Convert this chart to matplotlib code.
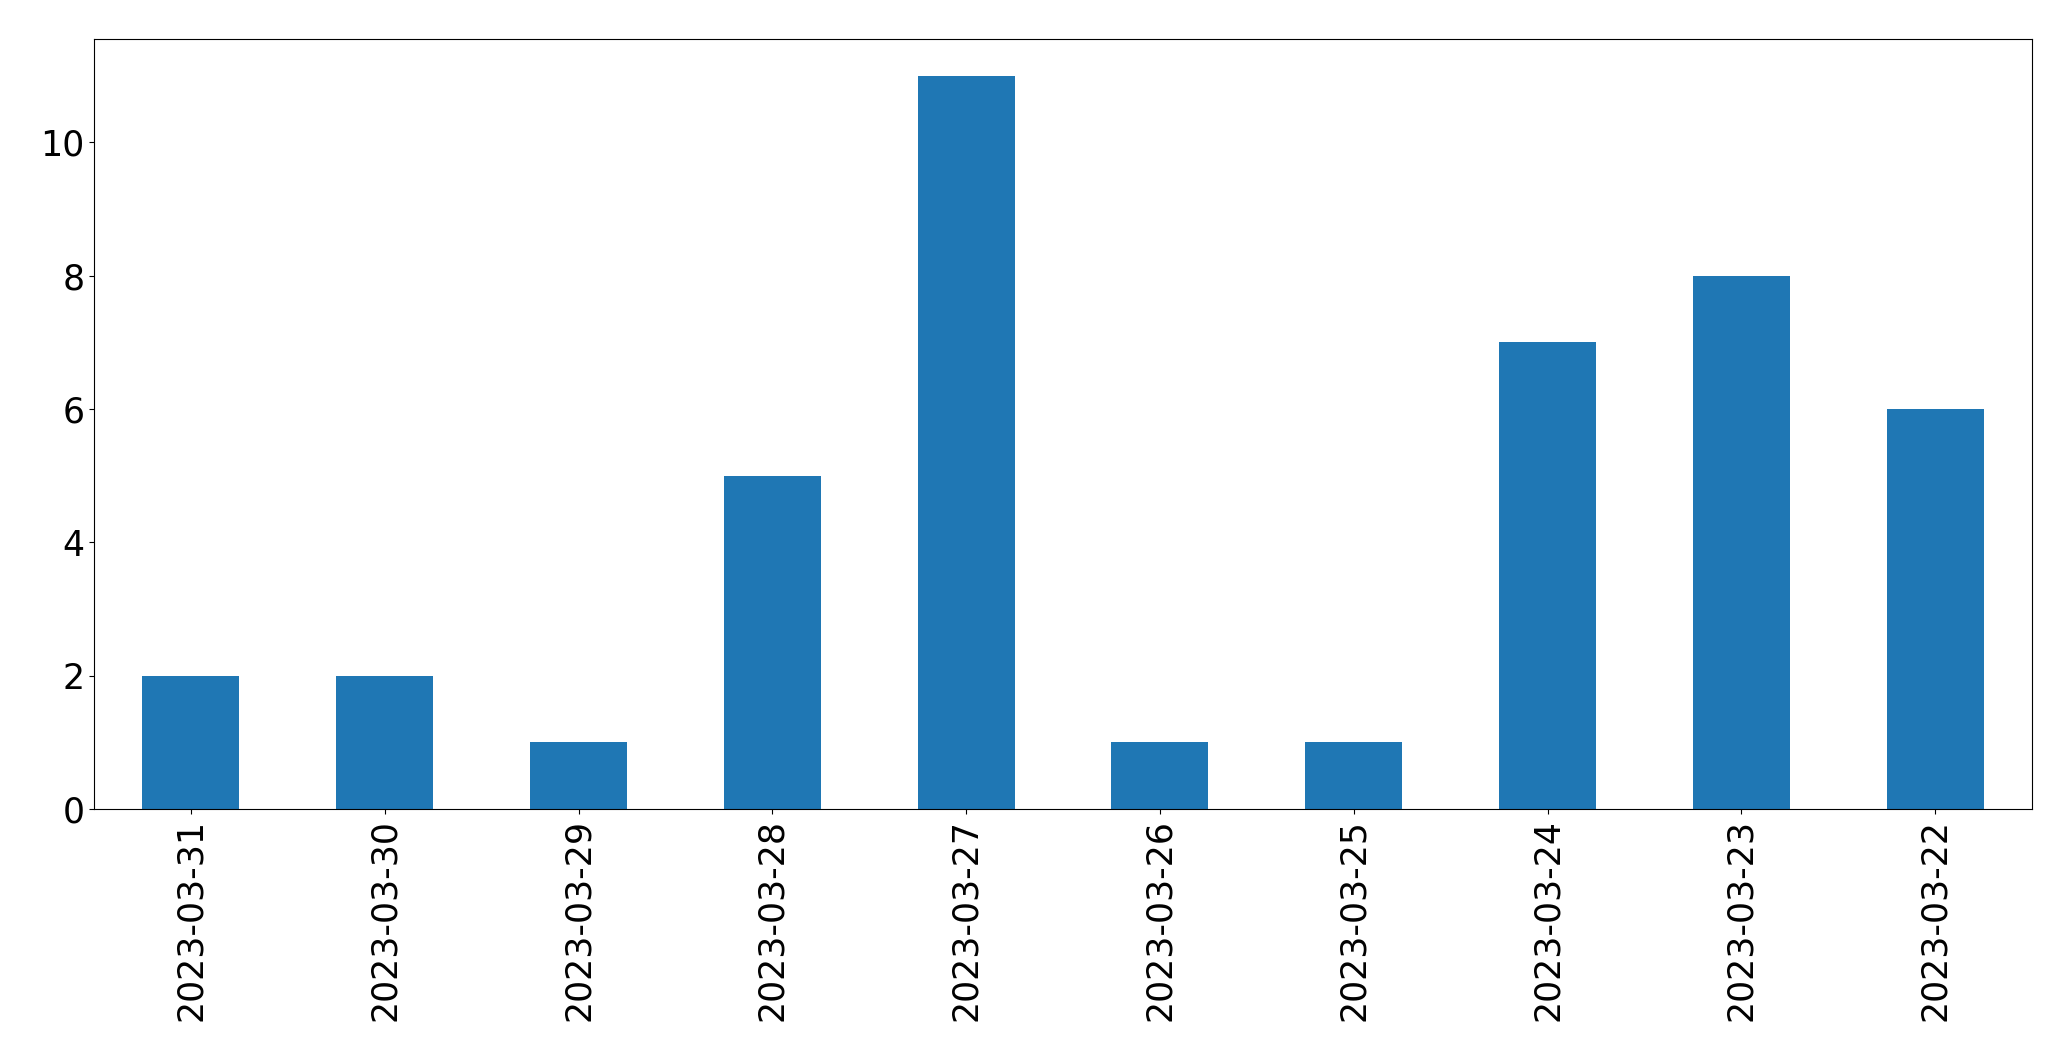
import matplotlib
matplotlib.use('Agg')
import matplotlib.pyplot as plt
import pandas as pd

# daily counts, newest first
dates = ['2023-03-31', '2023-03-30', '2023-03-29', '2023-03-28', '2023-03-27',
         '2023-03-26', '2023-03-25', '2023-03-24', '2023-03-23', '2023-03-22']
counts = [2, 2, 1, 5, 11, 1, 1, 7, 8, 6]

s = pd.Series(counts, index=dates)

fig = plt.figure(figsize=(20.71, 10.61), dpi=100)
ax = fig.add_axes([94 / 2071, 1 - 809 / 1061, (2032 - 94) / 2071, (809 - 39) / 1061])
s.plot(kind='bar', ax=ax, color='#1f77b4')
ax.tick_params(axis='both', labelsize=25)
ax.set_xticklabels(dates, rotation=90)

plt.savefig('out.png', dpi=100)
